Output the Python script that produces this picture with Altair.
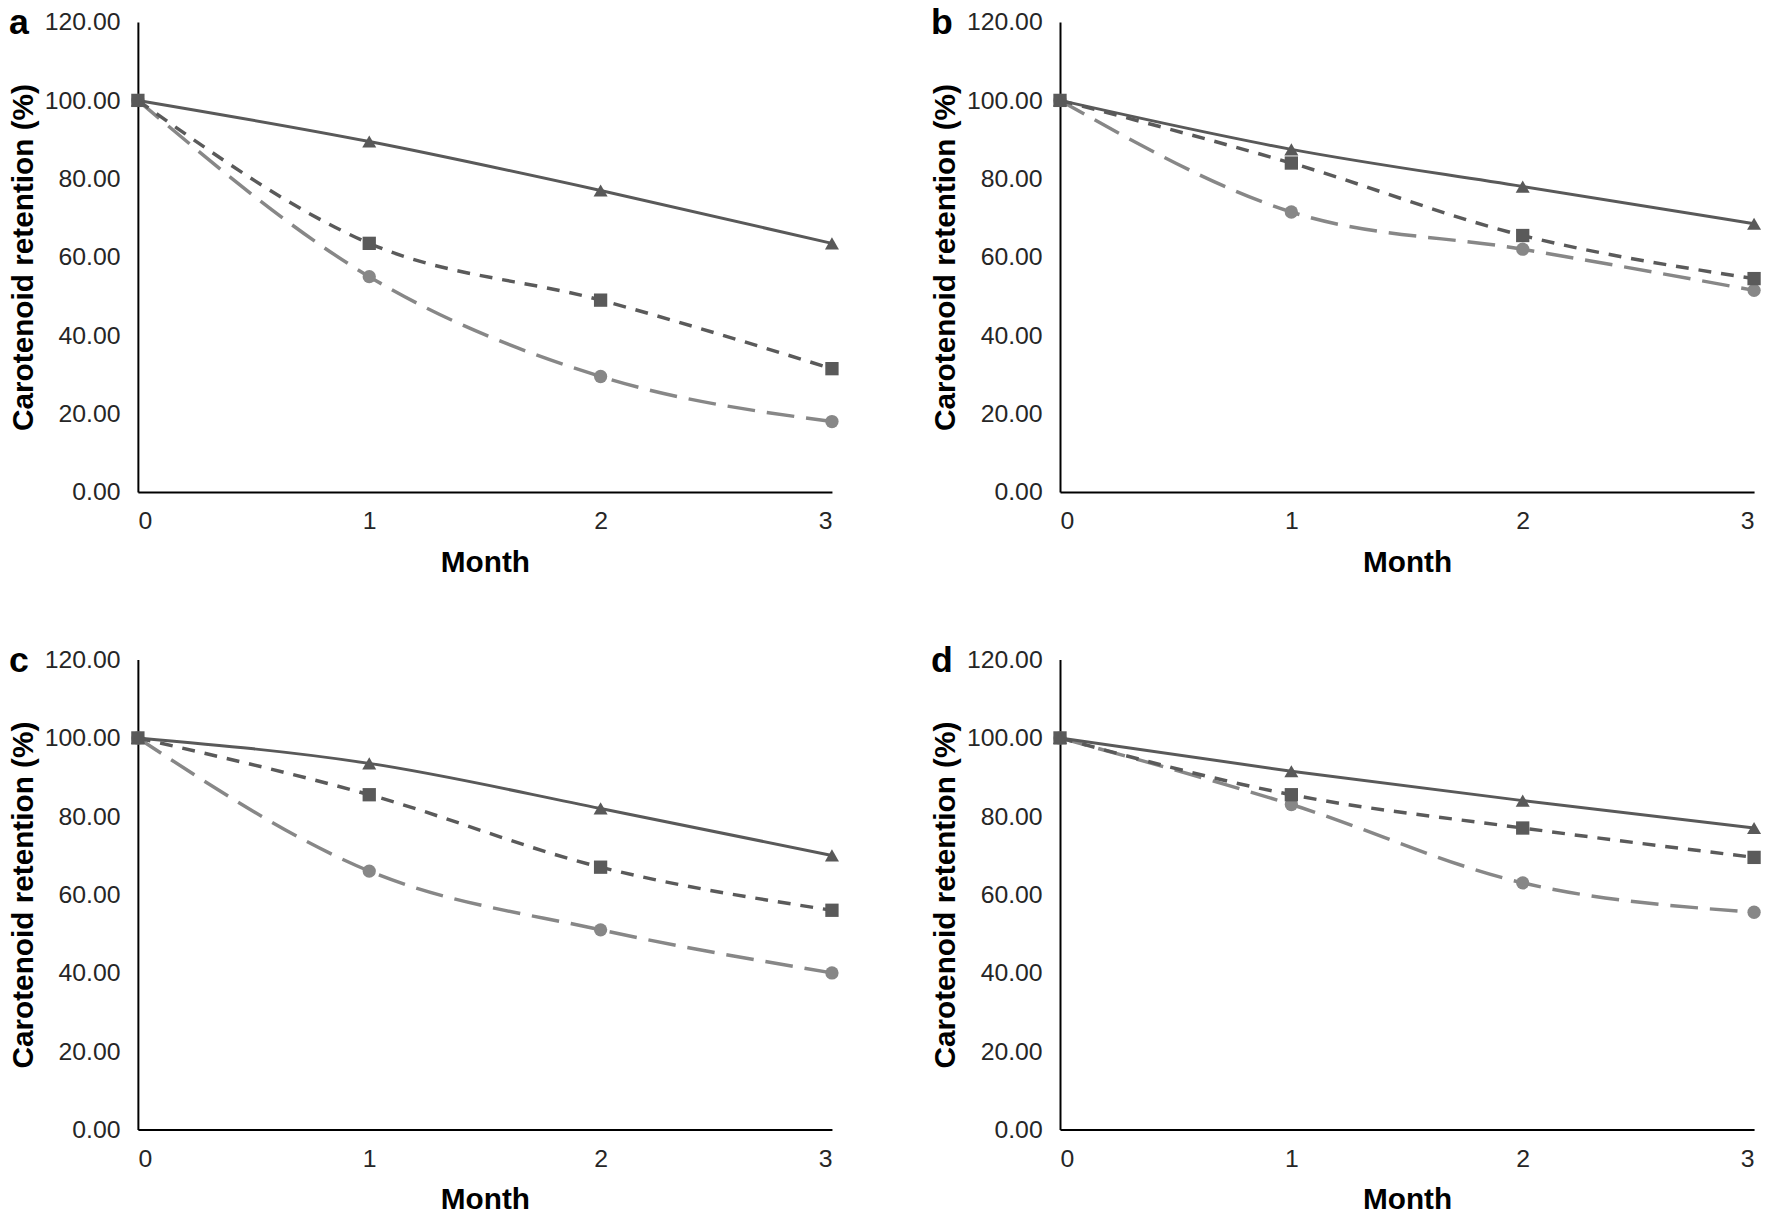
import altair as alt
import pandas as pd

# ---- data ----
months = [0, 1, 2, 3]
panel_letters = ["a", "b", "c", "d"]
series_names = ["circle", "square", "triangle"]

a_triangle = [100.0, 89.5, 77.0, 63.5]
a_square = [100.0, 63.5, 49.0, 31.5]
a_circle = [100.0, 55.0, 29.5, 18.0]

b_triangle = [100.0, 87.5, 78.0, 68.5]
b_square = [100.0, 84.0, 65.5, 54.5]
b_circle = [100.0, 71.5, 62.0, 51.5]

c_triangle = [100.0, 93.5, 82.0, 70.0]
c_square = [100.0, 85.5, 67.0, 56.0]
c_circle = [100.0, 66.0, 51.0, 40.0]

d_triangle = [100.0, 91.5, 84.0, 77.0]
d_square = [100.0, 85.5, 77.0, 69.5]
d_circle = [100.0, 83.0, 63.0, 55.5]

y_ticks = [0, 20, 40, 60, 80, 100, 120]
x_ticks = [0, 1, 2, 3]

FONT = "Liberation Sans"
W, H = 700, 474

styles = {
    "circle": dict(color="#878787", dash=[28, 12], width=3.5, shape="circle", size=180),
    "square": dict(color="#5a5a5a", dash=[13, 10], width=3.5, shape="square", size=180),
    "triangle": dict(color="#595959", dash=None, width=3, shape="triangle-up", size=200),
}


def panel(letter, tri, sq, circ):
    vals = {"circle": circ, "square": sq, "triangle": tri}
    x = alt.X(
        "month:Q",
        scale=alt.Scale(domain=[0, 3], nice=False, zero=False),
        axis=alt.Axis(values=x_ticks, format="d", title="Month"),
    )
    y = alt.Y(
        "value:Q",
        scale=alt.Scale(domain=[0, 120], nice=False),
        axis=alt.Axis(values=y_ticks, format=".2f", title="Carotenoid retention (%)"),
    )
    layers = []
    for name in series_names:
        st = styles[name]
        df = pd.DataFrame({"month": months, "value": vals[name]})
        line_kw = dict(color=st["color"], strokeWidth=st["width"], interpolate="monotone")
        if st["dash"]:
            line_kw["strokeDash"] = st["dash"]
        layers.append(alt.Chart(df).mark_line(**line_kw).encode(x=x, y=y))
        layers.append(
            alt.Chart(df)
            .mark_point(shape=st["shape"], filled=True, size=st["size"], color=st["color"], opacity=1)
            .encode(x=x, y=y)
        )
    lab = pd.DataFrame({"t": [letter]})
    layers.append(
        alt.Chart(lab)
        .mark_text(align="left", baseline="alphabetic", fontSize=36, fontWeight="bold", font=FONT, color="#000000")
        .encode(x=alt.value(-130), y=alt.value(12), text="t:N")
    )
    return alt.layer(*layers).properties(width=W, height=H)


pa = panel("a", a_triangle, a_square, a_circle)
pb = panel("b", b_triangle, b_square, b_circle)
pc = panel("c", c_triangle, c_square, c_circle)
pd_ = panel("d", d_triangle, d_square, d_circle)

chart = (
    alt.vconcat(
        alt.hconcat(pa, pb, spacing=91),
        alt.hconcat(pc, pd_, spacing=91),
        spacing=66,
    )
    .properties(padding={"left": 0, "top": -8, "right": 0, "bottom": 0})
    .configure_view(stroke=None)
    .configure_axis(
        grid=False,
        ticks=False,
        domainColor="#000000",
        domainWidth=2,
        labelFont=FONT,
        labelFontSize=25,
        labelColor="#262626",
        titleFont=FONT,
        titleFontSize=30,
        titleFontWeight="bold",
        titleColor="#000000",
    )
    .configure_axisY(labelPadding=18, titlePadding=6)
    .configure_axisX(labelPadding=17, titlePadding=14)
)

chart.save("out.html", embed_options={"renderer": "svg", "actions": False})
